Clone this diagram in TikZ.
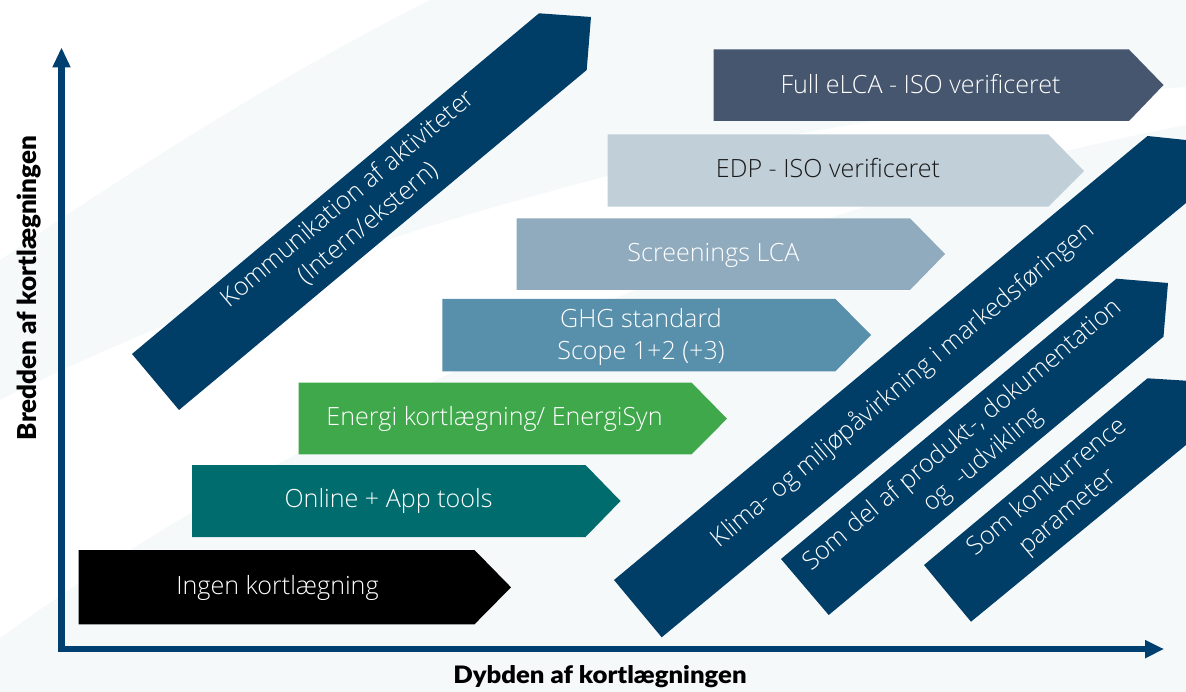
\documentclass[tikz,border=0pt]{standalone}
\usepackage{fontspec}
\setmainfont{Open Sans Light}
\newfontfamily\heavyfont{Lato Black}
\definecolor{navy}{HTML}{003E67}
\definecolor{slate}{HTML}{46566E}
\definecolor{edpc}{HTML}{C1CFD9}
\definecolor{screenc}{HTML}{90ABBE}
\definecolor{ghgc}{HTML}{588FAB}
\definecolor{energic}{HTML}{3FA84B}
\definecolor{onlinec}{HTML}{006C6D}
\definecolor{palebg}{HTML}{F6F9FA}
\definecolor{axisc}{HTML}{004070}
\tikzset{
  lbl/.style={text=white,font=\fontsize{25.1}{32}\selectfont,align=center,inner sep=0pt},
  dlbl/.style={lbl,rotate=40},
  axlbl/.style={text=black,inner sep=0pt},
  axisline/.style={draw=axisc,line width=6.5pt},
  axishead/.style={fill=axisc},
}
\begin{document}
\begin{tikzpicture}[x=1pt,y=-1pt]
\useasboundingbox (0,0) rectangle (1186,692);
\clip (0,0) rectangle (1186,692);
% background
\fill[palebg] (0,0) rectangle (1186,692);
\fill[white] (0,0) -- (0,260) .. controls (70,212) and (250,90) .. (430,0) -- cycle;
\fill[white] (0,638) .. controls (100,565) and (200,505) .. (300,452)
  .. controls (500,340) and (800,200) .. (1186,125) -- (1186,87)
  .. controls (1000,100) and (800,125) .. (600,178)
  .. controls (500,205) and (400,232) .. (300,272)
  .. controls (200,310) and (100,350) .. (0,400) -- cycle;
% horizontal arrows
\fill[slate] (713.6,49.5) -- (1129,49.5) -- (1163.5,85) -- (1129,121) -- (713.6,121) -- cycle;
\fill[edpc] (607.5,134.5) -- (1048.4,134.5) -- (1084,171) -- (1048.4,206.7) -- (607.5,206.7) -- cycle;
\fill[screenc] (516.5,218.3) -- (910,218.3) -- (945,254) -- (910,290) -- (516.5,290) -- cycle;
\fill[ghgc] (442.4,299) -- (835.4,299) -- (871,335) -- (835.4,371.3) -- (442.4,371.3) -- cycle;
\fill[energic] (298.5,382.7) -- (691.6,382.7) -- (727,418.7) -- (691.6,454.3) -- (298.5,454.3) -- cycle;
\fill[onlinec] (192,465) -- (585.5,465) -- (620.5,501) -- (585.5,537) -- (192,537) -- cycle;
\fill[black] (78.5,550) -- (474.5,550) -- (511,587.3) -- (474.5,624.3) -- (78.5,624.3) -- cycle;
% diagonal arrows
\fill[navy] (132,354) -- (539,13.3) -- (591,17) -- (586.7,70) -- (179,410) -- cycle;
\fill[navy] (614,580) -- (1147.5,136) -- (1186,140) -- (1186,203) -- (661.7,637.3) -- cycle;
\fill[navy] (781,559) -- (1116.4,278.7) -- (1168,283) -- (1163.5,336.7) -- (828.7,615) -- cycle;
\fill[navy] (924,565) -- (1147.5,378.3) -- (1186,380.7) -- (1186,445) -- (971,621.7) -- cycle;
% axes
\coordinate (origin) at (58,649);
\coordinate (ytip) at (61.5,48);
\coordinate (xtip) at (1163.5,649);
\draw[axisline] (61.5,67) -- (61.5,652.2);
\draw[axisline] (58,649) -- (1146,649);
\fill[axishead] (ytip) -- (70.8,67.5) -- (52.2,67.5) -- cycle;
\fill[axishead] (xtip) -- (1145,658.5) -- (1145,639.8) -- cycle;
% labels
\node[lbl] (full) at (920.5,84) {Full eLCA - ISO verificeret};
\node[lbl,text=black!90] (edp) at (828,168) {EDP - ISO verificeret};
\node[lbl] (scr) at (713.5,255) {Screenings LCA};
\node[lbl] (ghg) at (641,337) {GHG standard\\Scope 1+2 (+3)};
\node[lbl] (ene) at (494.5,419) {Energi kortlægning/ EnergiSyn};
\node[lbl] (onl) at (388.5,501) {Online + App tools};
\node[lbl] (ing) at (277.5,588) {Ingen kortlægning};
\node[dlbl] (kom) at (358,211) {Kommunikation af aktiviteter\\(Intern/ekstern)};
\node[dlbl] (kli) at (903,385) {Klima- og miljøpåvirkning i markedsføringen};
\node[dlbl] (del) at (973,448) {Som del af produkt-, dokumentation\\og\ \ -udvikling};
\node[dlbl] (kon) at (1058,500) {Som konkurrence\\parameter};
\node[axlbl,rotate=90,font=\heavyfont\fontsize{26}{26}\selectfont] (ylab) at (29,288) {Bredden af kortlægningen};
\node[axlbl,font=\heavyfont\fontsize{24}{24}\selectfont] (xlab) at (600,677) {\scalebox{1.07}[1]{Dybden af kortlægningen}};
\end{tikzpicture}
\end{document}
